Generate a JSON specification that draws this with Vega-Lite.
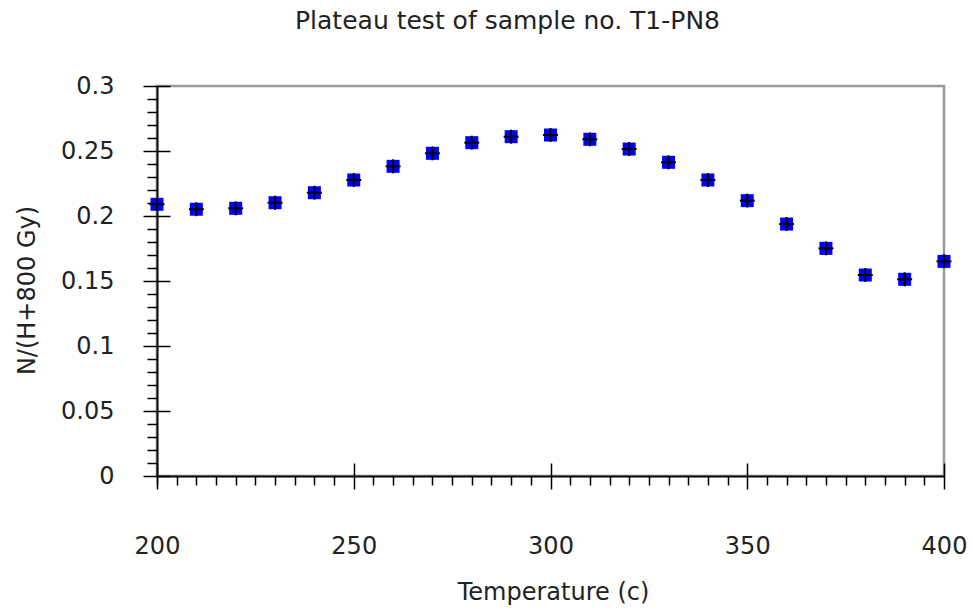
{
  "$schema": "https://vega.github.io/schema/vega-lite/v6.json",
  "width": 787,
  "height": 390,
  "autosize": {"type": "none"},
  "padding": {"left": 157, "top": 86, "right": 29, "bottom": 134},
  "background": "white",
  "config": {
    "view": {"stroke": "#999999", "strokeWidth": 2.5},
    "font": "DejaVu Sans",
    "axis": {"grid": false}
  },
  "title": {
    "text": "Plateau test of sample no. T1-PN8",
    "font": "DejaVu Sans",
    "fontSize": 25,
    "fontWeight": "normal",
    "color": "#222222",
    "anchor": "middle",
    "dx": -43,
    "baseline": "alphabetic",
    "offset": 20
  },
  "data": {
    "values": [
      {"temp": 200, "ratio": 0.209},
      {"temp": 210, "ratio": 0.2052},
      {"temp": 220, "ratio": 0.2059},
      {"temp": 230, "ratio": 0.2102},
      {"temp": 240, "ratio": 0.2179},
      {"temp": 250, "ratio": 0.2277},
      {"temp": 260, "ratio": 0.2382},
      {"temp": 270, "ratio": 0.2482},
      {"temp": 280, "ratio": 0.2564},
      {"temp": 290, "ratio": 0.261},
      {"temp": 300, "ratio": 0.2623},
      {"temp": 310, "ratio": 0.259},
      {"temp": 320, "ratio": 0.2515},
      {"temp": 330, "ratio": 0.2413},
      {"temp": 340, "ratio": 0.2277},
      {"temp": 350, "ratio": 0.2118},
      {"temp": 360, "ratio": 0.1938},
      {"temp": 370, "ratio": 0.1751},
      {"temp": 380, "ratio": 0.1546},
      {"temp": 390, "ratio": 0.1513},
      {"temp": 400, "ratio": 0.1651}
    ]
  },
  "resolve": {"axis": {"x": "independent", "y": "independent"}},
  "layer": [
    {
      "mark": {"type": "point", "shape": "square", "filled": true, "color": "#0000ff", "opacity": 1, "size": 169},
      "encoding": {
        "x": {
          "field": "temp", "type": "quantitative",
          "scale": {"domain": [200, 400], "nice": false, "zero": false},
          "axis": {
            "orient": "bottom",
            "values": [200, 250, 300, 350, 400],
            "title": "Temperature (c)",
            "titleFont": "DejaVu Sans",
            "titleFontSize": 24,
            "titleFontWeight": "normal",
            "titleColor": "#222222",
            "titleBaseline": "alphabetic",
            "titleX": 396,
            "titleY": 123,
            "labelFont": "DejaVu Sans",
            "labelFontSize": 24,
            "labelColor": "#222222",
            "labelBaseline": "alphabetic",
            "labelPadding": 64,
            "labelFlush": false,
            "labelOverlap": false,
            "tickSize": 13,
            "tickColor": "#000000",
            "tickWidth": 1.5,
            "domainColor": "#111111",
            "domainWidth": 2
          }
        },
        "y": {
          "field": "ratio", "type": "quantitative",
          "scale": {"domain": [0, 0.3], "nice": false},
          "axis": {
            "orient": "left",
            "values": [0, 0.05, 0.1, 0.15, 0.2, 0.25, 0.3],
            "format": "~g",
            "title": "N/(H+800 Gy)",
            "titleFont": "DejaVu Sans",
            "titleFontSize": 24,
            "titleFontWeight": "normal",
            "titleColor": "#222222",
            "titleAngle": -90,
            "titleAlign": "center",
            "titleBaseline": "alphabetic",
            "titleX": -123,
            "titleY": 204,
            "labelFont": "DejaVu Sans",
            "labelFontSize": 24,
            "labelColor": "#222222",
            "labelPadding": 29,
            "labelFlush": false,
            "labelOverlap": false,
            "tickSize": 14,
            "tickColor": "#000000",
            "tickWidth": 1.5,
            "domainColor": "#111111",
            "domainWidth": 2
          }
        }
      }
    },
    {
      "mark": {"type": "point", "shape": "M-1,0L1,0", "filled": false, "stroke": "#000000", "strokeWidth": 2, "opacity": 1, "size": 225},
      "encoding": {
        "x": {
          "field": "temp", "type": "quantitative",
          "axis": {
            "orient": "bottom",
            "values": [200, 250, 300, 350, 400],
            "title": null,
            "labels": false,
            "domain": false,
            "tickSize": -13,
            "tickColor": "#000000",
            "tickWidth": 1.5
          }
        },
        "y": {
          "field": "ratio", "type": "quantitative",
          "axis": {
            "orient": "left",
            "values": [0, 0.05, 0.1, 0.15, 0.2, 0.25, 0.3],
            "title": null,
            "labels": false,
            "domain": false,
            "tickSize": -13,
            "tickColor": "#000000",
            "tickWidth": 1.5
          }
        }
      }
    },
    {
      "mark": {"type": "point", "shape": "M0,-1L0,1", "filled": false, "stroke": "#000000", "strokeWidth": 2, "opacity": 1, "size": 196},
      "encoding": {
        "x": {
          "field": "temp", "type": "quantitative",
          "axis": {
            "orient": "bottom",
            "values": [200, 205, 210, 215, 220, 225, 230, 235, 240, 245, 255, 260, 265, 270, 275, 280, 285, 290, 295, 305, 310, 315, 320, 325, 330, 335, 340, 345, 355, 360, 365, 370, 375, 380, 385, 390, 395],
            "title": null,
            "labels": false,
            "domain": false,
            "tickSize": 9,
            "tickColor": "#000000",
            "tickWidth": 1.5
          }
        },
        "y": {
          "field": "ratio", "type": "quantitative",
          "axis": {
            "orient": "left",
            "values": [0.01, 0.02, 0.03, 0.04, 0.06, 0.07, 0.08, 0.09, 0.11, 0.12, 0.13, 0.14, 0.16, 0.17, 0.18, 0.19, 0.21, 0.22, 0.23, 0.24, 0.26, 0.27, 0.28, 0.29],
            "title": null,
            "labels": false,
            "domain": false,
            "tickSize": 10,
            "tickColor": "#000000",
            "tickWidth": 1.5
          }
        }
      }
    }
  ]
}
